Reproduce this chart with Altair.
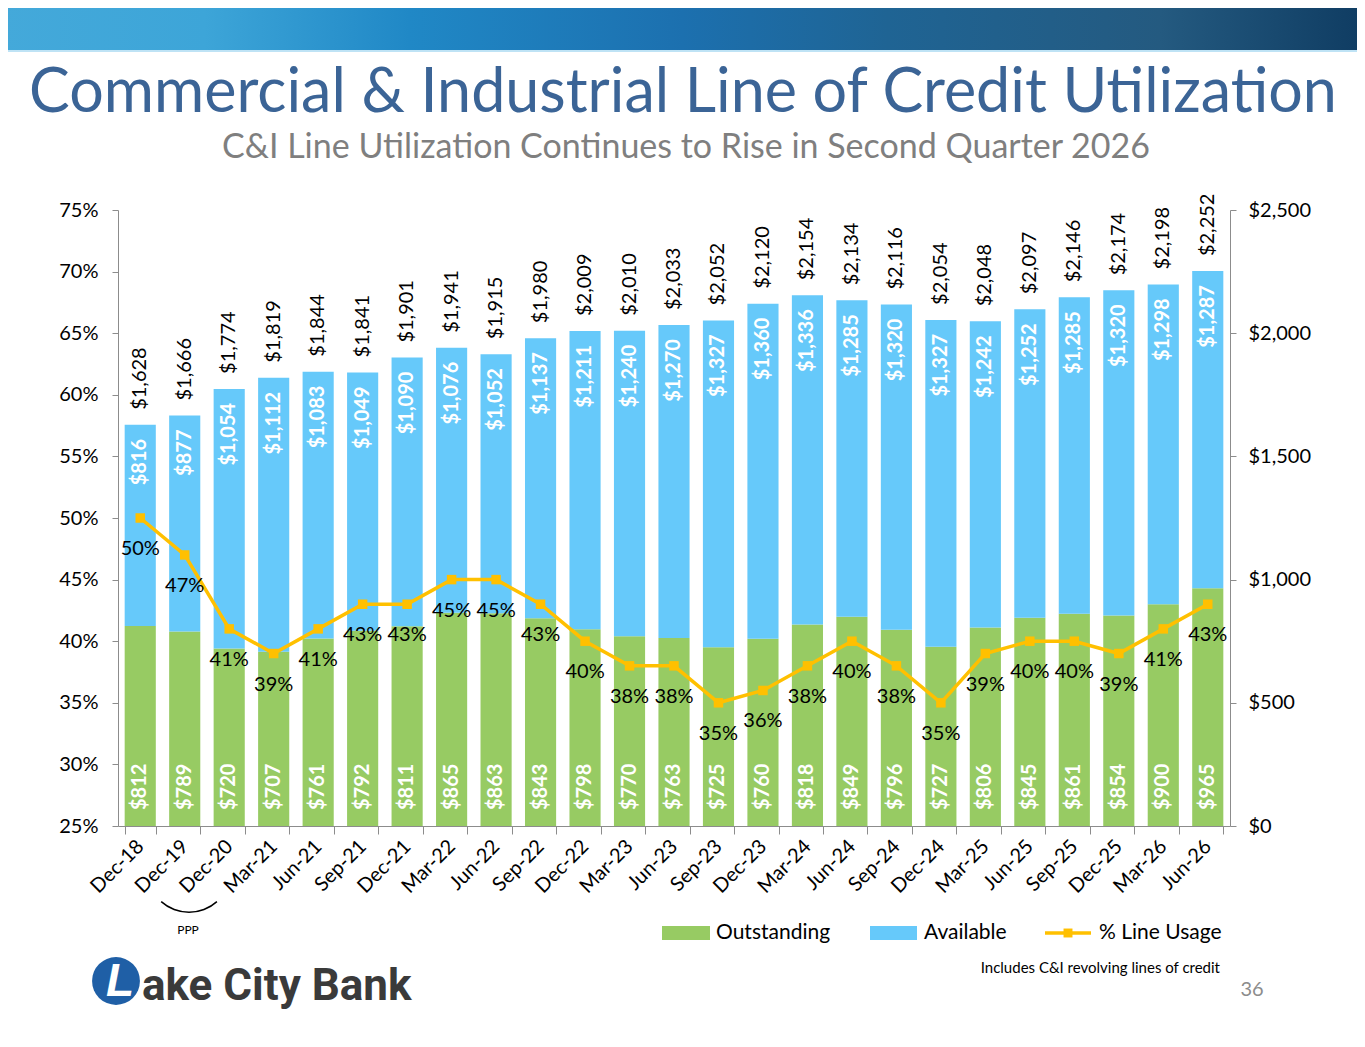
import altair as alt
import pandas as pd

periods = ["Dec-18", "Dec-19", "Dec-20", "Mar-21", "Jun-21", "Sep-21", "Dec-21", "Mar-22",
           "Jun-22", "Sep-22", "Dec-22", "Mar-23", "Jun-23", "Sep-23", "Dec-23", "Mar-24",
           "Jun-24", "Sep-24", "Dec-24", "Mar-25", "Jun-25", "Sep-25", "Dec-25", "Mar-26", "Jun-26"]
outstanding = [812, 789, 720, 707, 761, 792, 811, 865, 863, 843, 798, 770, 763, 725, 760,
               818, 849, 796, 727, 806, 845, 861, 854, 900, 965]
available = [816, 877, 1054, 1112, 1083, 1049, 1090, 1076, 1052, 1137, 1211, 1240, 1270, 1327,
             1360, 1336, 1285, 1320, 1327, 1242, 1252, 1285, 1320, 1298, 1287]
line_usage_pct = [50, 47, 41, 39, 41, 43, 43, 45, 45, 43, 40, 38, 38, 35, 36, 38, 40, 38, 35,
                  39, 40, 40, 39, 41, 43]

pct_ticks = [0.25, 0.30, 0.35, 0.40, 0.45, 0.50, 0.55, 0.60, 0.65, 0.70, 0.75]
dollar_ticks = [0, 500, 1000, 1500, 2000, 2500]

title_text = "Commercial & Industrial Line of Credit Utilization"
subtitle_text = "C&I Line Utilization Continues to Rise in Second Quarter 2026"
footnote_text = "Includes C&I revolving lines of credit"
page_number = "36"

FONT = "Lato"
GREEN = "#97CB63"
BLUE = "#66C9FA"
GOLD = "#FFC000"
AXIS_GRAY = "#8c8c8c"

df = pd.DataFrame({
    "period": periods,
    "outstanding": outstanding,
    "available": available,
    "pct": [v / 100 for v in line_usage_pct],
})

W, H = 1112, 616
base = alt.Chart(df).transform_calculate(
    total="datum.outstanding + datum.available", zero="0"
)

X = alt.X(
    "period:N", sort=periods, title=None,
    scale=alt.Scale(paddingInner=0.30, paddingOuter=0.15),
    axis=alt.Axis(labelAngle=-45, labelFontSize=20, labelFont=FONT, labelColor="#000000",
                  tickBand="extent", tickSize=8, tickColor=AXIS_GRAY, domainColor=AXIS_GRAY,
                  labelPadding=9, labelAlign="right", labelBaseline="middle"),
)


def ydol(field):
    return alt.Y(field, title=None,
                 scale=alt.Scale(domain=[0, 2500], nice=False, zero=True),
                 axis=alt.Axis(orient="right", values=dollar_ticks, format="$,.0f",
                               labelFontSize=20, labelFont=FONT, labelColor="#000000",
                               tickSize=6, tickColor=AXIS_GRAY, domainColor=AXIS_GRAY,
                               labelPadding=12, grid=False))


def ypct(field):
    return alt.Y(field, title=None,
                 scale=alt.Scale(domain=[0.25, 0.75], nice=False, zero=False),
                 axis=alt.Axis(orient="left", values=pct_ticks, format=".0%",
                               labelFontSize=20, labelFont=FONT, labelColor="#000000",
                               tickSize=6, tickColor=AXIS_GRAY, domainColor=AXIS_GRAY,
                               labelPadding=14, grid=False))


bars_out = base.mark_bar(color=GREEN).encode(x=X, y=ydol("outstanding:Q"))
bars_avail = base.mark_bar(color=BLUE).encode(x=X, y=ydol("outstanding:Q"), y2="total:Q")

lbl_out = base.mark_text(angle=270, align="left", baseline="middle", dx=16, color="white",
                         fontWeight="bold", fontSize=20, font=FONT).encode(
    x=X, y=ydol("zero:Q"), text=alt.Text("outstanding:Q", format="$,.0f"))
lbl_avail = base.mark_text(angle=270, align="right", baseline="middle", dx=-14, color="white",
                           fontWeight="bold", fontSize=20, font=FONT).encode(
    x=X, y=ydol("total:Q"), text=alt.Text("available:Q", format="$,.0f"))
lbl_total = base.mark_text(angle=270, align="left", baseline="middle", dx=15, color="#000000",
                           fontSize=20, font=FONT).encode(
    x=X, y=ydol("total:Q"), text=alt.Text("total:Q", format="$,.0f"))

dollars = alt.layer(bars_out, bars_avail, lbl_out, lbl_avail, lbl_total)

line = base.mark_line(color=GOLD, strokeWidth=3.5).encode(x=X, y=ypct("pct:Q"))
pts = base.mark_square(color=GOLD, size=90, opacity=1).encode(x=X, y=ypct("pct:Q"))
lbl_pct = base.mark_text(dy=31, fontSize=20, font=FONT, color="#000000").encode(
    x=X, y=ypct("pct:Q"), text=alt.Text("pct:Q", format=".0%"))
pct_layer = alt.layer(line, pts, lbl_pct)

one = pd.DataFrame({"k": [0]})
deco_base = alt.Chart(one)

# top banner (plot coordinates: page x - 118, page y - 210)
banner = deco_base.mark_rect(
    color=alt.Gradient(gradient="linear", x1=0, x2=1, y1=0, y2=0,
                       stops=[alt.GradientStop(color="#44A9DA", offset=0),
                              alt.GradientStop(color="#3DA5D8", offset=0.15),
                              alt.GradientStop(color="#2088C6", offset=0.3),
                              alt.GradientStop(color="#1C70AF", offset=0.5),
                              alt.GradientStop(color="#1F6494", offset=0.65),
                              alt.GradientStop(color="#245A80", offset=0.85),
                              alt.GradientStop(color="#0F3C62", offset=1)])
).encode(x=alt.value(-118), x2=alt.value(1247), y=alt.value(-215), y2=alt.value(-160))
banner_line = deco_base.mark_rule(color="#BFE3F5", strokeWidth=2).encode(
    x=alt.value(-118), x2=alt.value(1247), y=alt.value(-159))

title = deco_base.mark_text(text=title_text, font=FONT, fontSize=61, color="#3B6496",
                            align="center", baseline="alphabetic").encode(
    x=alt.value(565), y=alt.value(-98))
subtitle = deco_base.mark_text(text=subtitle_text, font=FONT, fontSize=34, color="#7F7F7F",
                               align="center", baseline="alphabetic").encode(
    x=alt.value(568), y=alt.value(-52))

# legend
leg_g = deco_base.mark_rect(color=GREEN).encode(
    x=alt.value(544), x2=alt.value(592), y=alt.value(716), y2=alt.value(730))
leg_g_t = deco_base.mark_text(text="Outstanding", font=FONT, fontSize=21, align="left",
                              baseline="middle", color="#000000").encode(
    x=alt.value(598), y=alt.value(723))
leg_b = deco_base.mark_rect(color=BLUE).encode(
    x=alt.value(752), x2=alt.value(799), y=alt.value(716), y2=alt.value(730))
leg_b_t = deco_base.mark_text(text="Available", font=FONT, fontSize=21, align="left",
                              baseline="middle", color="#000000").encode(
    x=alt.value(806), y=alt.value(723))
leg_l = deco_base.mark_rule(color=GOLD, strokeWidth=3.5).encode(
    x=alt.value(927), x2=alt.value(973), y=alt.value(723))
leg_l_p = deco_base.mark_square(color=GOLD, size=80, opacity=1).encode(
    x=alt.value(950), y=alt.value(723))
leg_l_t = deco_base.mark_text(text="% Line Usage", font=FONT, fontSize=21, align="left",
                              baseline="middle", color="#000000").encode(
    x=alt.value(981), y=alt.value(723))

footnote = deco_base.mark_text(text=footnote_text, font=FONT, fontSize=15, align="right",
                               baseline="middle", color="#000000").encode(
    x=alt.value(1102), y=alt.value(758))
pagenum = deco_base.mark_text(text=page_number, font=FONT, fontSize=20, align="center",
                              baseline="middle", color="#8C8C8C").encode(
    x=alt.value(1134), y=alt.value(780))

# PPP bracket
ppp_arc = deco_base.mark_arc(color="#000000", outerRadius=42.5, innerRadius=41,
                             theta=2.41, theta2=3.87).encode(
    x=alt.value(71), y=alt.value(660.5))
ppp_text = deco_base.mark_text(text="PPP", font=FONT, fontSize=12, align="center",
                               baseline="middle", color="#000000").encode(
    x=alt.value(70), y=alt.value(720))

# logo
logo_circle = deco_base.mark_point(shape="circle", filled=True, size=2290, opacity=1,
                                   color="#1F5FA6").encode(
    x=alt.value(-2), y=alt.value(771))
logo_L = deco_base.mark_text(text="L", font="Liberation Sans", fontSize=46, fontWeight="bold",
                             fontStyle="italic", color="white", align="center",
                             baseline="middle").encode(
    x=alt.value(2), y=alt.value(772))
logo_text = deco_base.mark_text(text="ake City Bank", font="Roboto", fontSize=44,
                                fontWeight="bold", color="#3A3A3A",
                                align="left", baseline="alphabetic").encode(
    x=alt.value(24), y=alt.value(790))

deco = [banner, banner_line, title, subtitle, leg_g, leg_g_t, leg_b, leg_b_t, leg_l, leg_l_p,
        leg_l_t, footnote, pagenum, ppp_arc, ppp_text, logo_circle, logo_L, logo_text]

chart = alt.layer(dollars, pct_layer, *deco).resolve_scale(y="independent").properties(
    width=W, height=H,
    padding={"left": 110, "top": 202, "right": 127, "bottom": 213},
    autosize=alt.AutoSizeParams(type="none"),
    background="white",
).configure_view(stroke=None)

chart.save("out.html", embed_options={"renderer": "svg", "actions": False})
